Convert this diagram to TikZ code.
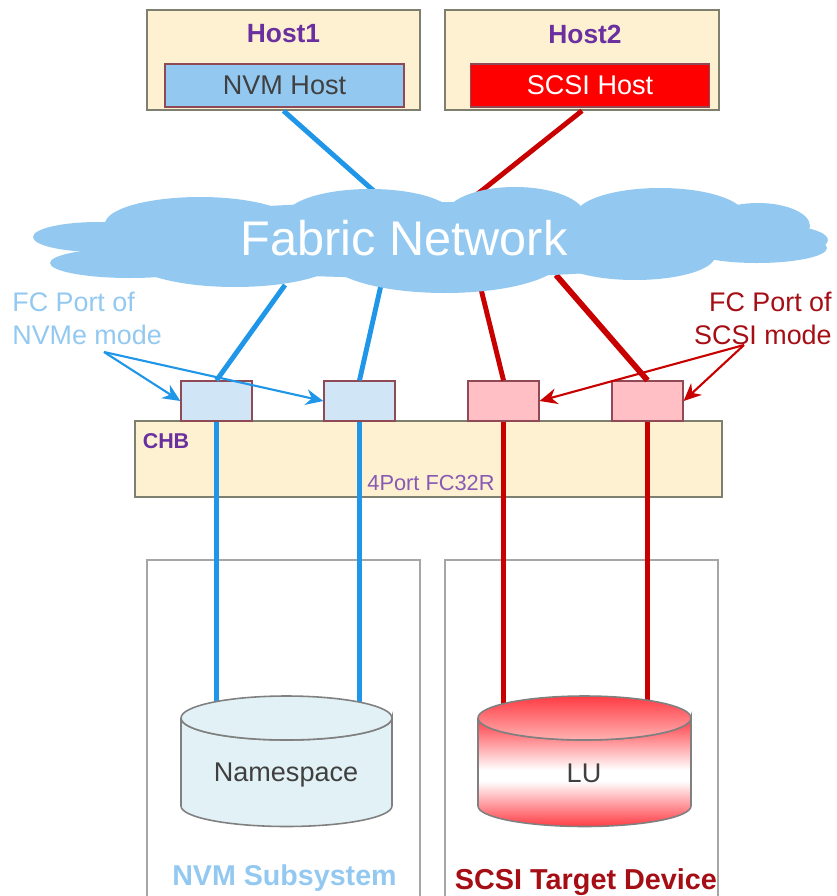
\documentclass[tikz,border=0pt]{standalone}
\usepackage{fontspec}
\setmainfont{Liberation Sans}
\usetikzlibrary{arrows.meta}
\definecolor{hostfill}{HTML}{FDF1D2}
\definecolor{fabricblue}{HTML}{93C9F1}
\definecolor{linkblue}{HTML}{1F96E8}
\definecolor{linkred}{HTML}{C80000}
\definecolor{textred}{HTML}{A50E14}
\definecolor{labelpurple}{HTML}{6A30A0}
\definecolor{edgegray}{HTML}{7F7F70}
\definecolor{portedge}{HTML}{8F4A55}
\definecolor{portblue}{HTML}{D0E6F7}
\definecolor{portred}{HTML}{FFBFC4}
\definecolor{drumblue}{HTML}{E1F1F5}
\definecolor{drumred}{HTML}{FF3C44}
\pgfdeclareverticalshading{lushade}{100bp}{color(0bp)=(drumred); color(25bp)=(drumred); color(46bp)=(white); color(51bp)=(white); color(75bp)=(drumred); color(100bp)=(drumred)}

\begin{document}
\begin{tikzpicture}[
    x = 0.02cm,
    y = -0.02cm,
    panel/.style={draw=edgegray, line width=0.9pt, fill=hostfill, inner sep=0pt},
    hostpanel/.style={panel, minimum width=5.47cm, minimum height=2cm},
    hostbar/.style={draw=portedge, line width=0.9pt, inner sep=0pt, minimum width=4.78cm, minimum height=0.86cm, font=\fontsize{15.4}{18}\selectfont},
    hosttitle/.style={font=\bfseries\fontsize{15}{18}\selectfont, text=labelpurple},
    portbox/.style={draw=portedge, line width=0.7pt, inner sep=0pt, minimum width=1.42cm, minimum height=0.8cm},
    subsystem/.style={draw=black!35, line width=1.1pt, inner sep=0pt, minimum width=5.47cm, minimum height=6.8cm},
    bluelink/.style={line width=2.8pt, linkblue},
    redlink/.style={line width=2.8pt, linkred},
    drum/.style={draw=black!50, line width=0.9pt},
    note/.style={font=\fontsize{15.3}{18.7}\selectfont},
    bluenote/.style={line width=1.2pt, linkblue, -{Stealth[length=10pt,width=9pt]}},
    rednote/.style={line width=1.2pt, linkred, -{Stealth[length=10pt,width=9pt]}}
    ]
    \useasboundingbox (0,0) rectangle (836,896);

    \node[hostpanel] (host1) at (283.5,60) {};
    \node[hostpanel] (host2) at (582,60) {};
    \node[hosttitle] (host1title) at (283.5,34) {Host1};
    \node[hosttitle] (host2title) at (585,34) {Host2};
    \node[hostbar, fill=fabricblue, text=black!75] (nvmhost) at (284.5,85.5) {NVM Host};
    \node[hostbar, fill=red, text=white] (scsihost) at (590,85.5) {SCSI Host};

    \node[subsystem] (nvmsub) at (283.5,730) {};
    \node[subsystem] (scsisub) at (581.5,730) {};
    \node[panel, minimum width=11.74cm, minimum height=1.52cm] (chb) at (428.5,459) {};
    \node[font=\bfseries\fontsize{12.2}{15}\selectfont, text=labelpurple] (chblabel) at (166,441) {CHB};
    \node[font=\fontsize{12.4}{15}\selectfont, text=labelpurple!80] (cardlabel) at (431,483) {4Port FC32R};

    \node[portbox, fill=portblue] (port1) at (216.5,401) {};
    \node[portbox, fill=portblue] (port2) at (359.5,401) {};
    \node[portbox, fill=portred] (port3) at (503.5,401) {};
    \node[portbox, fill=portred] (port4) at (647.5,401) {};

    \coordinate (nstop) at (286,705);
    \coordinate (lutop) at (584,705);
    \coordinate (cloud1) at (384,200);
    \coordinate (cloud2) at (470,200);
    \coordinate (cloud3) at (285,285);
    \coordinate (cloud4) at (381,285);
    \coordinate (cloud5) at (480,285);
    \coordinate (cloud6) at (556,275);

    \draw[bluelink] (host1.south) -- (cloud1);
    \draw[redlink] (host2.south) -- (cloud2);
    \draw[bluelink] (port1.north) -- (cloud3);
    \draw[bluelink] (port2.north) -- (cloud4);
    \draw[redlink] (port3.north) -- (cloud5);
    \draw[redlink, line width=3.3pt] (port4.north) -- (cloud6);
    \draw[bluelink] (port1.south) -- (port1.south |- nstop);
    \draw[bluelink] (port2.south) -- (port2.south |- nstop);
    \draw[redlink] (port3.south) -- (port3.south |- lutop);
    \draw[redlink] (port4.south) -- (port4.south |- lutop);

    \foreach \cx/\cy/\rx/\ry in {420/240/340/38, 200/224/95/27, 370/217/85/28, 515/216/70/29,
        660/216/85/28, 758/226/52/23, 98/237/65/15, 775/240/53/15, 130/263/80/15,
        235/258/105/29, 445/258/118/35, 635/256/80/24, 757/248/70/15}
        \fill[fabricblue] (\cx,\cy) ellipse[x radius=\rx*0.02cm, y radius=\ry*0.02cm];
    \node[text=white, font=\fontsize{27.7}{32}\selectfont] (fabric) at (404,238) {Fabric Network};

    \path[drum, fill=drumblue] (181,718) -- (181,806) arc[start angle=180, end angle=360, x radius=2.11cm, y radius=0.41cm]
        -- (392,718) arc[start angle=0, end angle=-180, x radius=2.11cm, y radius=0.44cm];
    \path[drum, fill=drumblue] (286.5,718) ellipse[x radius=2.11cm, y radius=0.44cm];
    \path[drum, shade, shading=lushade] (478,718) -- (478,806) arc[start angle=180, end angle=360, x radius=2.13cm, y radius=0.41cm]
        -- (691,718) arc[start angle=0, end angle=-180, x radius=2.13cm, y radius=0.44cm];
    \path[drum, top color=drumred, bottom color=red!30] (584.5,718) ellipse[x radius=2.13cm, y radius=0.44cm];
    \node[text=black!75, font=\fontsize{15.4}{18}\selectfont] (namespace) at (286,775) {Namespace};
    \node[text=black!75, font=\fontsize{15.4}{18}\selectfont] (lu) at (584,773) {LU};

    \node[text=fabricblue, font=\bfseries\fontsize{16.3}{19}\selectfont] (nvmname) at (284.5,878) {NVM Subsystem};
    \node[text=textred, font=\bfseries\fontsize{16.4}{20}\selectfont] (scsiname) at (586,882) {SCSI Target Device};

    \node[note, text=fabricblue, align=left, anchor=west, inner sep=0pt] (nvmenote) at (12,318) {FC Port of\\NVMe mode};
    \node[note, text=textred, align=right, anchor=east, inner sep=0pt] (scsinote) at (832,318) {FC Port of\\SCSI mode};
    \coordinate (nvmefoot) at (104,352);
    \coordinate (scsifoot) at (744,345);
    \draw[bluenote] (nvmefoot) -- (port1.west);
    \draw[bluenote] (nvmefoot) -- (port2.west);
    \draw[rednote] (scsifoot) -- (port3.east);
    \draw[rednote] (scsifoot) -- (port4.east);
\end{tikzpicture}
\end{document}
